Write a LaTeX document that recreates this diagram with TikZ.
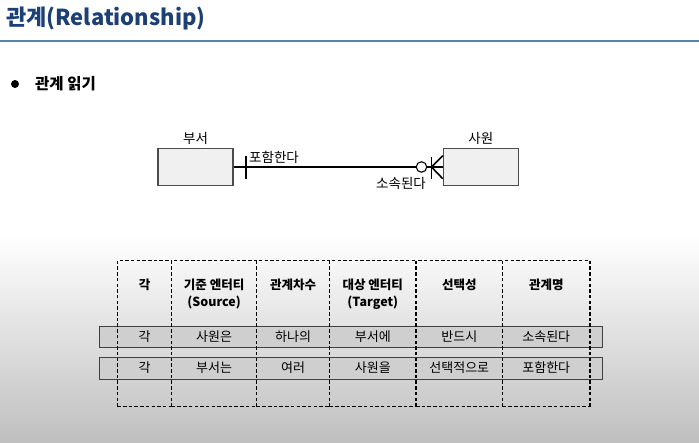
\documentclass[tikz,border=0pt]{standalone}
\usepackage{fontspec}
\setmainfont{Noto Sans CJK KR}
\usetikzlibrary{positioning}

\definecolor{titleblue}{HTML}{1C3F76}
\definecolor{ruleblue}{HTML}{5B80AA}

\tikzset{
  entity/.style={draw=black!70, fill=black!6, line width=1.1pt, minimum width=75pt, minimum height=37pt, inner sep=0pt},
  erline/.style={line width=1.6pt},
  erlabel/.style={font=\fontsize{13.5}{15}\selectfont, inner sep=0pt},
  colline/.style={dash pattern=on 3.5pt off 2.2pt, line width=1.2pt},
  band/.style={draw=black!75, fill=black!19, line width=0.9pt},
  headtext/.style={font=\fontsize{12.5}{14}\selectfont\bfseries, inner sep=0pt},
  celltext/.style={font=\fontsize{13}{15}\selectfont, inner sep=0pt}
}

\begin{document}
\begin{tikzpicture}[x=1pt, y=-1pt]

\useasboundingbox (0,0) rectangle (699,442);
\fill[white] (0,0) rectangle (699,442);
\shade[top color=white, bottom color=black!25] (0,235) rectangle (699,442);

% title and rule
\node[anchor=west, text=titleblue, font=\fontsize{22}{24}\selectfont\bfseries, inner sep=0pt] (title) at (6,18) {관계(Relationship)};
\draw[ruleblue, line width=1.4pt] (0,41) -- (699,41);

% bullet
\node[circle, fill=black, inner sep=0pt, minimum size=8pt] (bullet) at (15,84) {};
\node[anchor=west, font=\fontsize{15.5}{17}\selectfont\bfseries, inner sep=0pt] (subtitle) at (35,84) {관계 읽기};

% entities
\node[entity] (dept) at (195.5,166.7) {};
\node[entity] (emp) at (480.8,166.7) {};
\node[erlabel, above=3pt of dept] (deptname) {부서};
\node[erlabel, above=3pt of emp] (empname) {사원};

% relationship line
\draw[erline] (dept) -- (emp);
\coordinate (one) at (245.7,167);
\draw[erline] (one) ++(0,-11) -- ++(0,23);
\node[erlabel] (incl) at (274,157.5) {포함한다};

\node[circle, draw, fill=white, line width=1.1pt, minimum size=10.5pt, inner sep=0pt] (opt) at (421.5,167) {};
\coordinate (crow) at (431.5,167);
\draw[erline] (crow) ++(0,-10) -- ++(0,22);
\draw[erline] ([yshift=11pt]emp.west) -- (crow) -- ([yshift=-12pt]emp.west);
\node[erlabel] (belong) at (401,183) {소속된다};

% table rows
\draw[band] (99.3,326) rectangle (602.3,347.3);
\draw[band] (99.3,357.3) rectangle (602.3,379.3);

% table columns
\foreach \name/\xl/\xr/\head/\ra/\rb in {
  a/117.3/171.7/각/각/각,
  b/171.7/256.6/기준 엔터티/사원은/부서는,
  c/256.6/329.6/관계차수/하나의/여러,
  d/329.6/416/대상 엔터티/부서에/사원을,
  e/416/502.6/선택성/반드시/선택적으로,
  f/502.6/589.9/관계명/소속된다/포함한다}
{
  \draw[colline] (\xl,406.7) -- (\xl,260.7) -- (\xr,260.7);
  \draw[colline] (\xl,406.7) -- (\xr,406.7);
  \node[headtext] (head-\name) at ({(\xl+\xr)/2},285) {\head};
  \node[celltext] (rowa-\name) at ({(\xl+\xr)/2},337) {\ra};
  \node[celltext] (rowb-\name) at ({(\xl+\xr)/2},368) {\rb};
}
\draw[colline] (589.9,260.7) -- (589.9,406.7);
\node[headtext, below=5pt of head-b] (source) {(Source)};
\node[headtext, below=5pt of head-d] (target) {(Target)};

\end{tikzpicture}
\end{document}
